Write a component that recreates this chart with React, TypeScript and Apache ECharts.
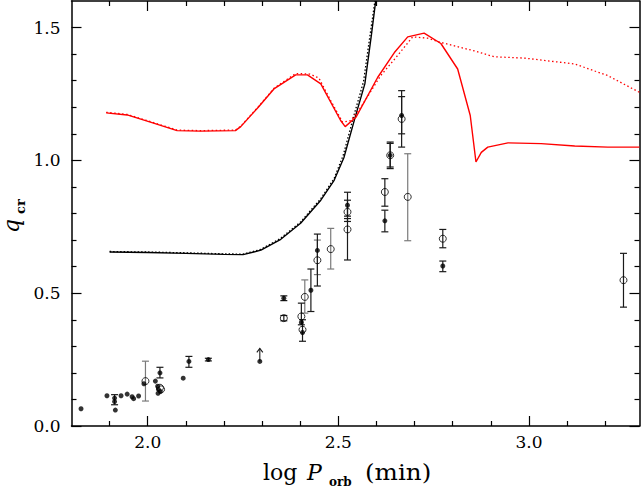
import React, { useEffect, useRef } from "react";
import * as echarts from "echarts";

const X_MIN = 1.8;
const X_MAX = 3.29;
const Y_MIN = 0;
const Y_MAX = 1.6;

const xMajorTicks = [2.0, 2.5, 3.0];
const xMinorTicks = [1.9, 2.1, 2.2, 2.3, 2.4, 2.6, 2.7, 2.8, 2.9, 3.1, 3.2];
const yMajorTicks = [0.0, 0.5, 1.0, 1.5];
const yMinorTicks = [0.1, 0.2, 0.3, 0.4, 0.6, 0.7, 0.8, 0.9, 1.1, 1.2, 1.3, 1.4];

// model curves [log P, q_cr]
const blackSolid = [
  [1.9, 0.655], [1.95, 0.654], [2.0, 0.653], [2.1, 0.65], [2.2, 0.646], [2.25, 0.645],
  [2.297, 0.662], [2.349, 0.703], [2.401, 0.763], [2.454, 0.85], [2.489, 0.925],
  [2.515, 1.012], [2.544, 1.162], [2.5695, 1.288], [2.587, 1.475], [2.598, 1.6],
];
const blackDotted = [
  [1.9, 0.657], [2.0, 0.655], [2.1, 0.652], [2.2, 0.648], [2.25, 0.647],
  [2.297, 0.665], [2.349, 0.707], [2.401, 0.768], [2.454, 0.856], [2.489, 0.932],
  [2.513, 1.02], [2.541, 1.17], [2.566, 1.296], [2.584, 1.48], [2.596, 1.6],
];
const redSolid = [
  [1.891, 1.179], [1.946, 1.171], [2.007, 1.144], [2.077, 1.112], [2.138, 1.11], [2.23, 1.112],
  [2.244, 1.127], [2.29, 1.2], [2.331, 1.269], [2.388, 1.322], [2.419, 1.322], [2.454, 1.288],
  [2.506, 1.15], [2.518, 1.127], [2.546, 1.162], [2.603, 1.312], [2.647, 1.406], [2.682, 1.465],
  [2.725, 1.479], [2.769, 1.44], [2.813, 1.344], [2.846, 1.169], [2.861, 0.994], [2.875, 1.03],
  [2.892, 1.05], [2.945, 1.066], [3.032, 1.063], [3.12, 1.054], [3.207, 1.05], [3.29, 1.05],
];
const redDotted = [
  [1.891, 1.181], [1.946, 1.173], [2.007, 1.146], [2.077, 1.114], [2.138, 1.112], [2.23, 1.114],
  [2.244, 1.129], [2.29, 1.202], [2.331, 1.271], [2.388, 1.327], [2.425, 1.325], [2.449, 1.31],
  [2.48, 1.225], [2.511, 1.144], [2.533, 1.15], [2.559, 1.2], [2.611, 1.319], [2.655, 1.394],
  [2.695, 1.465], [2.734, 1.46], [2.769, 1.444], [2.857, 1.412], [2.909, 1.39], [2.988, 1.385],
  [3.12, 1.363], [3.207, 1.319], [3.29, 1.256],
];

// observed systems
const filledPoints = [
  [1.825, 0.065], [1.893, 0.114], [1.913, 0.105], [1.913, 0.092], [1.915, 0.06], [1.93, 0.114],
  [1.946, 0.12], [1.959, 0.11], [1.963, 0.103], [1.976, 0.113], [1.99, 0.159], [2.02, 0.169],
  [2.032, 0.2], [2.026, 0.15], [2.028, 0.138], [2.027, 0.123], [2.033, 0.13], [2.093, 0.18],
  [2.108, 0.243], [2.159, 0.25], [2.294, 0.243], [2.357, 0.481], [2.403, 0.39], [2.406, 0.352],
  [2.428, 0.511], [2.445, 0.661], [2.524, 0.831], [2.622, 0.7725], [2.636, 1.019], [2.666, 1.169],
  [2.774, 0.6025],
];
const openPoints = [
  [1.994, 0.169], [2.032, 0.144], [2.035, 0.138], [2.357, 0.406], [2.403, 0.4125], [2.406, 0.3625],
  [2.412, 0.486], [2.445, 0.624], [2.48, 0.666], [2.524, 0.806], [2.524, 0.74], [2.622, 0.881],
  [2.636, 1.019], [2.666, 1.156], [2.682, 0.8625], [2.774, 0.705], [3.248, 0.549],
];
// error bars [x, low, high]
const errBlack = [
  [1.913, 0.08, 0.118], [2.032, 0.181, 0.221], [2.108, 0.221, 0.262], [2.159, 0.245, 0.255],
  [2.357, 0.472, 0.49], [2.357, 0.396, 0.416], [2.403, 0.381, 0.4625], [2.406, 0.319, 0.4],
  [2.428, 0.431, 0.591], [2.445, 0.527, 0.7225], [2.524, 0.79, 0.88], [2.524, 0.77, 0.85],
  [2.524, 0.625, 0.781], [2.622, 0.731, 0.8125], [2.622, 0.8275, 0.931], [2.636, 0.969, 1.069],
  [2.636, 0.975, 1.064], [2.666, 1.05, 1.2625], [2.666, 1.1, 1.24], [2.774, 0.671, 0.74],
  [2.774, 0.581, 0.621], [3.248, 0.4475, 0.65],
];
const errGray = [
  [1.994, 0.094, 0.244], [2.412, 0.425, 0.55], [2.445, 0.57, 0.7], [2.48, 0.591, 0.744],
  [2.682, 0.6975, 1.025],
];
// lower limits [x, q, arrow tip]
const lowerLimits = [[2.294, 0.243, 0.292]];

const FONT = '"DejaVu Serif", serif';

function axis(dim: "x" | "y", position: string, ticks: number[], len: number, labels: boolean, line: boolean) {
  const isX = dim === "x";
  return {
    type: "value",
    position,
    min: isX ? X_MIN : Y_MIN,
    max: isX ? X_MAX : Y_MAX,
    axisLine: { show: line, onZero: false, lineStyle: { color: "#000", width: 1.5 } },
    axisTick: {
      show: true,
      inside: true,
      length: len,
      customValues: ticks,
      lineStyle: { color: "#000", width: 1.2 },
    },
    axisLabel: labels
      ? {
          show: true,
          customValues: ticks,
          formatter: (v: number) => v.toFixed(1),
          fontFamily: FONT,
          fontSize: 17,
          color: "#000",
          margin: isX ? 7 : 11,
        }
      : { show: false },
    splitLine: { show: false },
  };
}

export default function App() {
  const ref = useRef<HTMLDivElement>(null);
  useEffect(() => {
    if (!ref.current) return;
    const chart = echarts.init(ref.current, null, { renderer: "svg" });

    const errSeries = (data: number[][], color: string) => ({
      type: "custom",
      xAxisIndex: 0,
      yAxisIndex: 0,
      silent: true,
      z: 3,
      encode: { x: 0, y: [1, 2] },
      data,
      renderItem: (_p: any, api: any) => {
        const x = api.value(0);
        const lo = api.coord([x, api.value(1)]);
        const hi = api.coord([x, api.value(2)]);
        const w = 3.5;
        const st = { stroke: color, lineWidth: 1.2, fill: "none" };
        return {
          type: "group",
          children: [
            { type: "line", shape: { x1: lo[0], y1: lo[1], x2: hi[0], y2: hi[1] }, style: st },
            { type: "line", shape: { x1: lo[0] - w, y1: lo[1], x2: lo[0] + w, y2: lo[1] }, style: st },
            { type: "line", shape: { x1: hi[0] - w, y1: hi[1], x2: hi[0] + w, y2: hi[1] }, style: st },
          ],
        };
      },
    });

    const option: any = {
      animation: false,
      grid: { left: 71.5, right: 2.5, top: 1, bottom: 64 },
      xAxis: [
        axis("x", "bottom", xMajorTicks, 10, true, true),
        axis("x", "bottom", xMinorTicks, 5, false, false),
        axis("x", "top", xMajorTicks, 10, false, true),
        axis("x", "top", xMinorTicks, 5, false, false),
      ],
      yAxis: [
        axis("y", "left", yMajorTicks, 10, true, true),
        axis("y", "left", yMinorTicks, 5, false, false),
        axis("y", "right", yMajorTicks, 10, false, true),
        axis("y", "right", yMinorTicks, 5, false, false),
      ],
      series: [
        {
          type: "line", data: blackDotted, symbol: "none", silent: true, clip: true,
          lineStyle: { color: "#000", width: 1.3, type: [1.5, 2] }, z: 2,
        },
        {
          type: "line", data: blackSolid, symbol: "none", silent: true, clip: true,
          lineStyle: { color: "#000", width: 1.4 }, z: 2,
        },
        {
          type: "line", data: redDotted, symbol: "none", silent: true, clip: true,
          lineStyle: { color: "#ff0000", width: 1.3, type: [1.5, 2.5] }, z: 2,
        },
        {
          type: "line", data: redSolid, symbol: "none", silent: true, clip: true,
          lineStyle: { color: "#ff0000", width: 1.4 }, z: 2,
        },
        errSeries(errGray, "#7a7a7a"),
        errSeries(errBlack, "#1a1a1a"),
        {
          type: "custom",
          silent: true,
          z: 3,
          encode: { x: 0, y: [1, 2] },
          data: lowerLimits,
          renderItem: (_p: any, api: any) => {
            const x = api.value(0);
            const a = api.coord([x, api.value(1)]);
            const b = api.coord([x, api.value(2)]);
            const st = { stroke: "#1a1a1a", lineWidth: 1.1, fill: "none" };
            return {
              type: "group",
              children: [
                { type: "line", shape: { x1: a[0], y1: a[1], x2: b[0], y2: b[1] }, style: st },
                { type: "polyline", shape: { points: [[b[0] - 3, b[1] + 4], [b[0], b[1]], [b[0] + 3, b[1] + 4]] }, style: st },
              ],
            };
          },
        },
        {
          type: "scatter", data: openPoints, symbol: "circle", symbolSize: 7, silent: true, z: 4,
          itemStyle: { color: "rgba(255,255,255,0)", borderColor: "#000", borderWidth: 1 },
        },
        {
          type: "scatter", data: filledPoints, symbol: "circle", symbolSize: 5, silent: true, z: 5,
          itemStyle: { color: "#000" },
        },
      ],
      graphic: [
        { type: "text", x: 263, y: 472, style: { text: "log", font: `22px ${FONT}`, fill: "#000", align: "left", verticalAlign: "middle" } },
        { type: "text", x: 307, y: 472, style: { text: "P", font: `italic 22px ${FONT}`, fill: "#000", align: "left", verticalAlign: "middle" } },
        { type: "text", x: 329, y: 482, style: { text: "orb", font: `bold 12px ${FONT}`, fill: "#000", align: "left", verticalAlign: "middle" } },
        { type: "text", x: 365, y: 472, scaleX: 1.12, style: { text: "(min)", font: `22px ${FONT}`, fill: "#000", align: "left", verticalAlign: "middle" } },
        { type: "text", x: 11.5, y: 233, rotation: Math.PI / 2, style: { text: "q", font: `italic 22px ${FONT}`, fill: "#000", align: "left", verticalAlign: "middle" } },
        { type: "text", x: 20.5, y: 214, rotation: Math.PI / 2, style: { text: "cr", font: `bold 13px ${FONT}`, fill: "#000", align: "left", verticalAlign: "middle" } },
      ],
    };
    chart.setOption(option);
    return () => chart.dispose();
  }, []);
  return (
    <div
      ref={ref}
      style={{ position: "absolute", left: 0, top: 0, width: 642, height: 490, background: "#fff" }}
    />
  );
}
